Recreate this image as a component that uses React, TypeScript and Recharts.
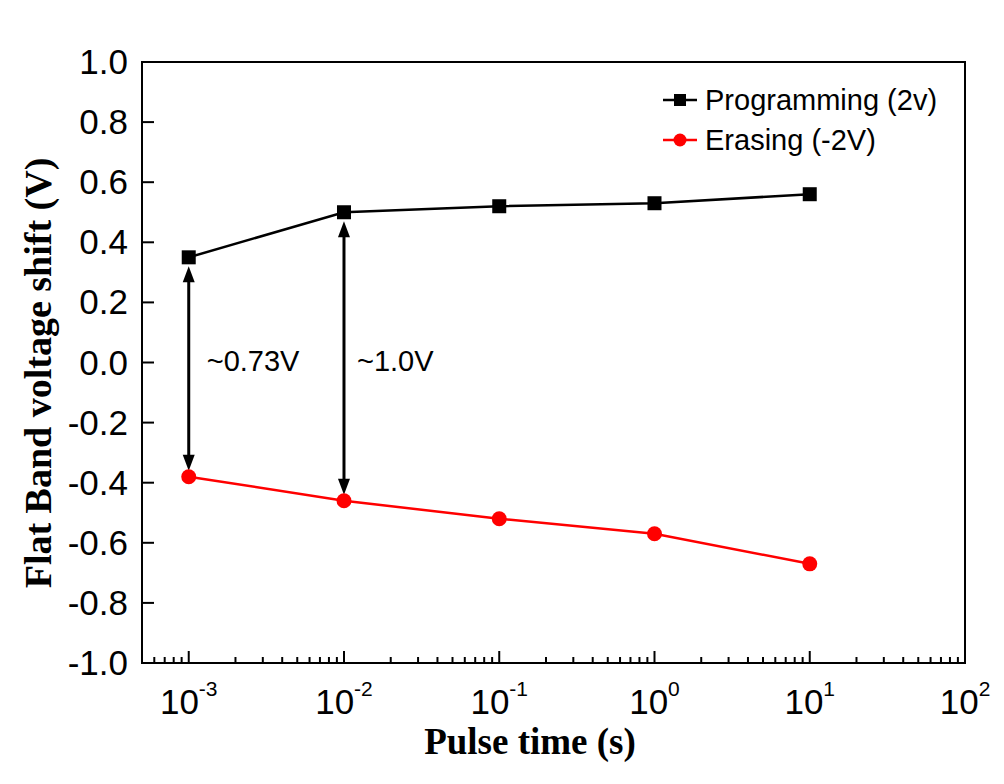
import React from "react";
import {
  LineChart,
  Line,
  XAxis,
  YAxis,
  ReferenceArea,
  ReferenceLine,
  ReferenceDot,
  Legend,
} from "recharts";

// pulse duration in seconds
const pulseTimes = [1e-3, 1e-2, 1e-1, 1, 10];
const programmingShift = [0.35, 0.5, 0.52, 0.53, 0.56];
const erasingShift = [-0.38, -0.46, -0.52, -0.57, -0.67];

const seriesNames = ["Programming (2v)", "Erasing (-2V)"];
const seriesColors = ["#000000", "#ff0000"];

const xMajorTicks = [1e-3, 1e-2, 1e-1, 1, 10, 100];
const xTickExponents = ["-3", "-2", "-1", "0", "1", "2"];
const yTicks = [-1, -0.8, -0.6, -0.4, -0.2, 0, 0.2, 0.4, 0.6, 0.8, 1];
const yTickLabels = ["-1.0", "-0.8", "-0.6", "-0.4", "-0.2", "0.0", "0.2", "0.4", "0.6", "0.8", "1.0"];

// double arrows between the two curves
const arrowX = [1e-3, 1e-2];
const arrowTop = [0.32, 0.47];
const arrowBottom = [-0.36, -0.44];
const arrowText = ["~0.73V", "~1.0V"];
const arrowTextY = [0.005, 0.005];

const X_DOMAIN: [number, number] = [5e-4, 100];

const minorTicks: number[] = [];
[1e-4, 1e-3, 1e-2, 1e-1, 1, 10].forEach((d) => {
  for (let m = 2; m <= 9; m++) {
    const v = d * m;
    if (v > X_DOMAIN[0] && v < X_DOMAIN[1]) minorTicks.push(v);
  }
});
const allXTicks = [...xMajorTicks, ...minorTicks].sort((a, b) => a - b);

const data = pulseTimes.map((t, i) => ({
  t,
  prog: programmingShift[i],
  erase: erasingShift[i],
}));

const SANS = "'Liberation Sans', Arial, sans-serif";
const SERIF = "'Liberation Serif', 'Times New Roman', serif";

const XTick = (props: any) => {
  const { x, y, payload } = props;
  const idx = xMajorTicks.findIndex((v) => Math.abs(v - payload.value) / v < 1e-6);
  const major = idx >= 0;
  return (
    <g>
      <line x1={x} x2={x} y1={y} y2={y - (major ? 12 : 6)} stroke="#000" strokeWidth={2} />
      {major && (
        <text x={x} y={y + 51} textAnchor="middle" fontFamily={SANS} fontSize={35} fill="#000">
          10
          <tspan dy={-18} fontSize={21}>
            {xTickExponents[idx]}
          </tspan>
        </text>
      )}
    </g>
  );
};

const YTick = (props: any) => {
  const { x, y, payload } = props;
  const idx = yTicks.findIndex((v) => Math.abs(v - payload.value) < 1e-9);
  return (
    <g>
      <line x1={x} x2={x + 12} y1={y} y2={y} stroke="#000" strokeWidth={2} />
      <text x={x - 14} y={y + 12} textAnchor="end" fontFamily={SANS} fontSize={35} fill="#000">
        {yTickLabels[idx]}
      </text>
    </g>
  );
};

const SquareDot = (props: any) => {
  const { cx, cy } = props;
  if (cx == null || cy == null) return null;
  return <rect x={cx - 7} y={cy - 7} width={14} height={14} fill="#000" />;
};

const CircleDot = (props: any) => {
  const { cx, cy } = props;
  if (cx == null || cy == null) return null;
  return <circle cx={cx} cy={cy} r={7.5} fill="#ff0000" />;
};

const DoubleArrow = (props: any) => {
  const { x1, y1, x2, y2 } = props;
  const top = Math.min(y1, y2);
  const bot = Math.max(y1, y2);
  const x = x1;
  const hl = 16;
  const hw = 6;
  return (
    <g>
      <line x1={x} x2={x} y1={top + hl - 2} y2={bot - hl + 2} stroke="#000" strokeWidth={3} />
      <polygon points={`${x},${top} ${x - hw},${top + hl} ${x + hw},${top + hl}`} fill="#000" />
      <polygon points={`${x},${bot} ${x - hw},${bot - hl} ${x + hw},${bot - hl}`} fill="#000" />
    </g>
  );
};

const LegendBox = () => (
  <div style={{ fontFamily: SANS, fontSize: 29, color: "#000", lineHeight: "40px" }}>
    {seriesNames.map((name, i) => (
      <div key={name} style={{ display: "flex", alignItems: "center", height: 40 }}>
        <svg width={44} height={20} style={{ marginRight: 1 }}>
          <line x1={3} x2={37} y1={10} y2={10} stroke={seriesColors[i]} strokeWidth={2.5} />
          {i === 0 ? (
            <rect x={14} y={4} width={12} height={12} fill={seriesColors[i]} />
          ) : (
            <circle cx={20} cy={10} r={6.5} fill={seriesColors[i]} />
          )}
        </svg>
        <span>{name}</span>
      </div>
    ))}
  </div>
);

export default function App() {
  return (
    <div style={{ position: "absolute", left: 0, top: 0, background: "#fff" }}>
      <LineChart
        width={1004}
        height={784}
        data={data}
        margin={{ top: 62, right: 39, bottom: 21, left: 42 }}
      >
        <ReferenceArea
          x1={X_DOMAIN[0]}
          x2={X_DOMAIN[1]}
          y1={-1}
          y2={1}
          fill="none"
          stroke="#000"
          strokeWidth={2}
          fillOpacity={0}
          ifOverflow="visible"
        />
        <XAxis
          dataKey="t"
          type="number"
          scale="log"
          domain={X_DOMAIN}
          allowDataOverflow
          ticks={allXTicks}
          interval={0}
          tick={<XTick />}
          tickLine={false}
          tickSize={0}
          tickMargin={0}
          axisLine={{ stroke: "#000", strokeWidth: 2 }}
          height={100}
          label={{
            content: () => (
              <text x={530} y={754} textAnchor="middle" fontFamily={SERIF} fontWeight="bold" fontSize={37} fill="#000">
                Pulse time (s)
              </text>
            ),
          }}
        />
        <YAxis
          type="number"
          domain={[-1, 1]}
          ticks={yTicks}
          interval={0}
          tick={<YTick />}
          tickLine={false}
          tickSize={0}
          tickMargin={0}
          axisLine={{ stroke: "#000", strokeWidth: 2 }}
          width={100}
          label={{
            content: () => (
              <text
                x={51}
                y={373}
                transform="rotate(-90 51 373)"
                textAnchor="middle"
                fontFamily={SERIF}
                fontWeight="bold"
                fontSize={38}
                fill="#000"
              >
                Flat Band voltage shift (V)
              </text>
            ),
          }}
        />
        {arrowX.map((x, i) => (
          <ReferenceLine
            key={`arrow-${i}`}
            segment={[
              { x, y: arrowTop[i] },
              { x, y: arrowBottom[i] },
            ]}
            shape={<DoubleArrow />}
            ifOverflow="visible"
          />
        ))}
        {arrowX.map((x, i) => (
          <ReferenceDot
            key={`txt-${i}`}
            x={x}
            y={arrowTextY[i]}
            r={0}
            fill="none"
            stroke="none"
            label={{
              value: arrowText[i],
              position: "right",
              offset: i === 0 ? 18 : 13,
              fontFamily: SANS,
              fontSize: 29,
              fill: "#000",
            }}
          />
        ))}
        <Line
          dataKey="prog"
          name={seriesNames[0]}
          stroke={seriesColors[0]}
          strokeWidth={2.5}
          dot={<SquareDot />}
          activeDot={false}
          isAnimationActive={false}
        />
        <Line
          dataKey="erase"
          name={seriesNames[1]}
          stroke={seriesColors[1]}
          strokeWidth={2.5}
          dot={<CircleDot />}
          activeDot={false}
          isAnimationActive={false}
        />
        <Legend
          layout="vertical"
          align="center"
          verticalAlign="middle"
          content={<LegendBox />}
          wrapperStyle={{ left: 660, top: 80, width: 300, height: 80 }}
        />
      </LineChart>
    </div>
  );
}
